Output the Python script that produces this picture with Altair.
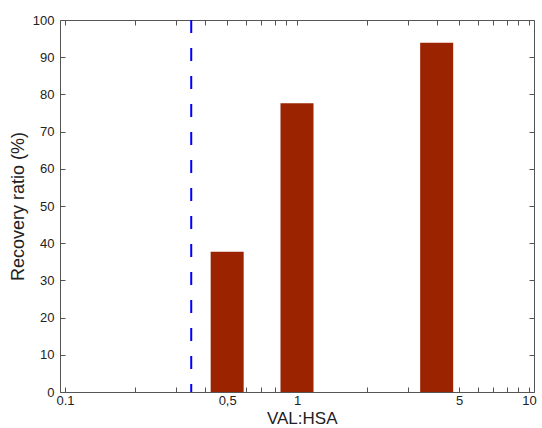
import altair as alt
import pandas as pd

# Recovery ratio measured at three VAL:HSA molar ratios
ratios = [0.5, 1, 4]
recovery = [37.7, 77.6, 93.9]

# Reference ratio marked by the dashed line
ref_ratio = [0.35]

# Log-axis tick positions and the subset that carries a label
x_ticks = [0.1, 0.2, 0.3, 0.4, 0.5, 0.6, 0.7, 0.8, 0.9,
           1, 2, 3, 4, 5, 6, 7, 8, 9, 10]
x_major = [0.1, 0.5, 1, 5, 10]
x_major_labels = ["0.1", "0,5", "1", "5", "10"]
y_ticks = [0, 10, 20, 30, 40, 50, 60, 70, 80, 90, 100]

FONT = "Liberation Sans"
BAR_COLOR = "#9b2300"
AXIS_COLOR = "#555555"
TEXT_COLOR = "#222222"

bars_df = pd.DataFrame({"ratio": ratios, "recovery": recovery})
ref_df = pd.DataFrame({"ratio": ref_ratio})

label_expr = " : ".join(
    f"datum.value == {v} ? '{t}'" for v, t in zip(x_major, x_major_labels)
) + " : ''"

x_scale = alt.Scale(type="log", domain=[0.1, 10], nice=False)
y_scale = alt.Scale(domain=[0, 100], nice=False, zero=True)

# Shared style for inward-pointing ticks: shift the axis inside the frame
tick_style = dict(offset=-5, tickSize=5, domain=False, grid=False,
                  tickColor=AXIS_COLOR, tickWidth=1)

bars = alt.Chart(bars_df).mark_bar(color=BAR_COLOR, size=33).encode(
    x=alt.X("ratio:Q", scale=x_scale,
            axis=alt.Axis(orient="bottom", values=x_ticks, labelExpr=label_expr,
                          title="VAL:HSA", titleX=241.7, titleY=36.5,
                          titleFontSize=17,
                          titleBaseline="alphabetic", titleAlign="center",
                          labelPadding=2, labelFlush=False, **tick_style)),
    y=alt.Y("recovery:Q", scale=y_scale,
            axis=alt.Axis(orient="left", values=y_ticks, format="d",
                          title="Recovery ratio (%)", titleX=-41.5, titleY=186,
                          titleBaseline="alphabetic", titleAlign="center",
                          titleAngle=-90,
                          labelPadding=6, labelFlush=False, **tick_style)),
)

# Invisible copy of the bars that carries the top and right tick rows
frame_ticks = alt.Chart(bars_df).mark_bar(opacity=0, size=33).encode(
    x=alt.X("ratio:Q", scale=x_scale,
            axis=alt.Axis(orient="top", values=x_ticks, labels=False,
                          title=None, **tick_style)),
    y=alt.Y("recovery:Q", scale=y_scale,
            axis=alt.Axis(orient="right", values=y_ticks, labels=False,
                          title=None, **tick_style)),
)

ref_line = alt.Chart(ref_df).mark_rule(
    color="#0000ff", strokeWidth=2, strokeDash=[13, 15]
).encode(
    x=alt.X("ratio:Q", scale=x_scale, axis=None),
)

chart = alt.layer(bars, frame_ticks, ref_line).resolve_axis(
    x="independent", y="independent"
).properties(
    width=474,
    height=372,
    autosize=alt.AutoSizeParams(type="none"),
    padding={"left": 60, "top": 20, "right": 8, "bottom": 36},
    background="white",
).configure_view(
    stroke=AXIS_COLOR, strokeWidth=1
).configure_axis(
    labelFont=FONT, labelFontSize=13, labelColor=TEXT_COLOR,
    titleFont=FONT, titleFontSize=18, titleFontWeight="normal",
    titleColor=TEXT_COLOR,
)

chart.save("out.html", embed_options={"renderer": "svg", "actions": False})
